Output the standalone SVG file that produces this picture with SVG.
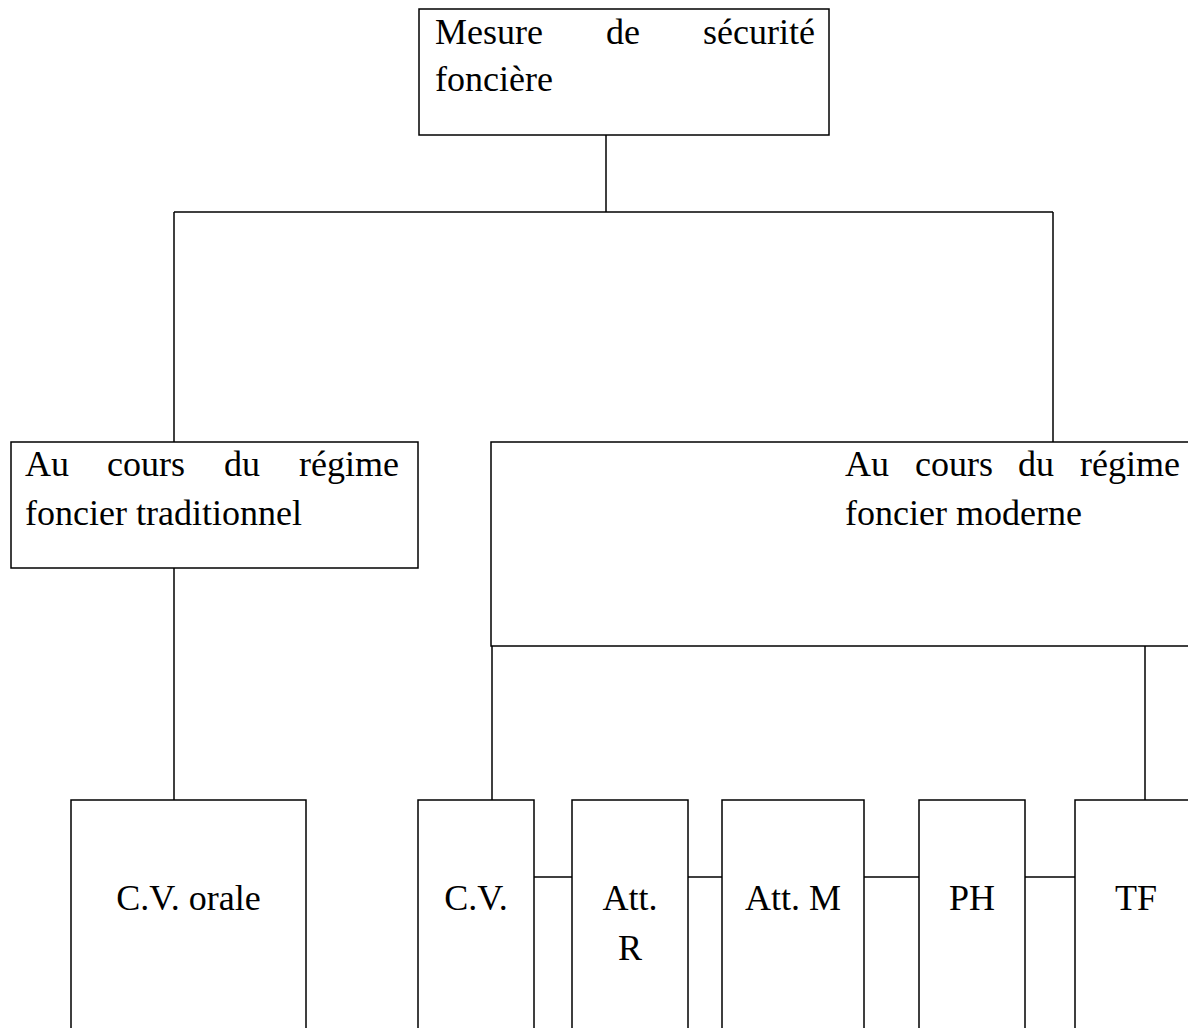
<svg xmlns="http://www.w3.org/2000/svg" width="1188" height="1028" viewBox="0 0 1188 1028">
<style>
.box{fill:#fff;stroke:#000;stroke-width:1.5}
.ln{stroke:#000;stroke-width:1.5;fill:none}
text{font-family:"Liberation Serif","Times New Roman",serif;font-size:36px;fill:#000}
.c{text-anchor:middle}
</style>
<rect width="1188" height="1028" fill="#fff"/>
<g id="connectors">
<line class="ln" x1="606" y1="135" x2="606" y2="212"/>
<line class="ln" x1="174" y1="212" x2="1053" y2="212"/>
<line class="ln" x1="174" y1="212" x2="174" y2="442"/>
<line class="ln" x1="1053" y1="212" x2="1053" y2="442"/>
<line class="ln" x1="174" y1="568" x2="174" y2="800"/>
<line class="ln" x1="492" y1="646" x2="492" y2="800"/>
<line class="ln" x1="1145" y1="646" x2="1145" y2="800"/>
<line class="ln" x1="534" y1="877" x2="572" y2="877"/>
<line class="ln" x1="688" y1="877" x2="722" y2="877"/>
<line class="ln" x1="864" y1="877" x2="919" y2="877"/>
<line class="ln" x1="1025" y1="877" x2="1075" y2="877"/>
</g>
<g id="root">
<rect class="box" x="419" y="9" width="410" height="126"/>
<text y="44"><tspan x="435">Mesure</tspan><tspan x="606">de</tspan><tspan x="703">sécurité</tspan></text>
<text x="435" y="91">foncière</text>
</g>
<g id="traditionnel">
<rect class="box" x="11" y="442" width="407" height="126"/>
<text y="476"><tspan x="25">Au</tspan><tspan x="107">cours</tspan><tspan x="224">du</tspan><tspan x="299">régime</tspan></text>
<text x="25" y="525">foncier traditionnel</text>
</g>
<g id="moderne">
<rect class="box" x="491" y="442" width="710" height="204"/>
<text y="476"><tspan x="845">Au</tspan><tspan x="915">cours</tspan><tspan x="1018">du</tspan><tspan x="1080">régime</tspan></text>
<text x="845" y="525">foncier moderne</text>
</g>
<g id="cv-orale">
<rect class="box" x="71" y="800" width="235" height="240"/>
<text class="c" x="188.5" y="910">C.V. orale</text>
</g>
<g id="cv">
<rect class="box" x="418" y="800" width="116" height="240"/>
<text class="c" x="476" y="910">C.V.</text>
</g>
<g id="att-r">
<rect class="box" x="572" y="800" width="116" height="240"/>
<text class="c" x="630" y="910">Att.</text>
<text class="c" x="630" y="960">R</text>
</g>
<g id="att-m">
<rect class="box" x="722" y="800" width="142" height="240"/>
<text class="c" x="793" y="910">Att. M</text>
</g>
<g id="ph">
<rect class="box" x="919" y="800" width="106" height="240"/>
<text class="c" x="972" y="910">PH</text>
</g>
<g id="tf">
<rect class="box" x="1075" y="800" width="122" height="240"/>
<text class="c" x="1136" y="910">TF</text>
</g>
</svg>
